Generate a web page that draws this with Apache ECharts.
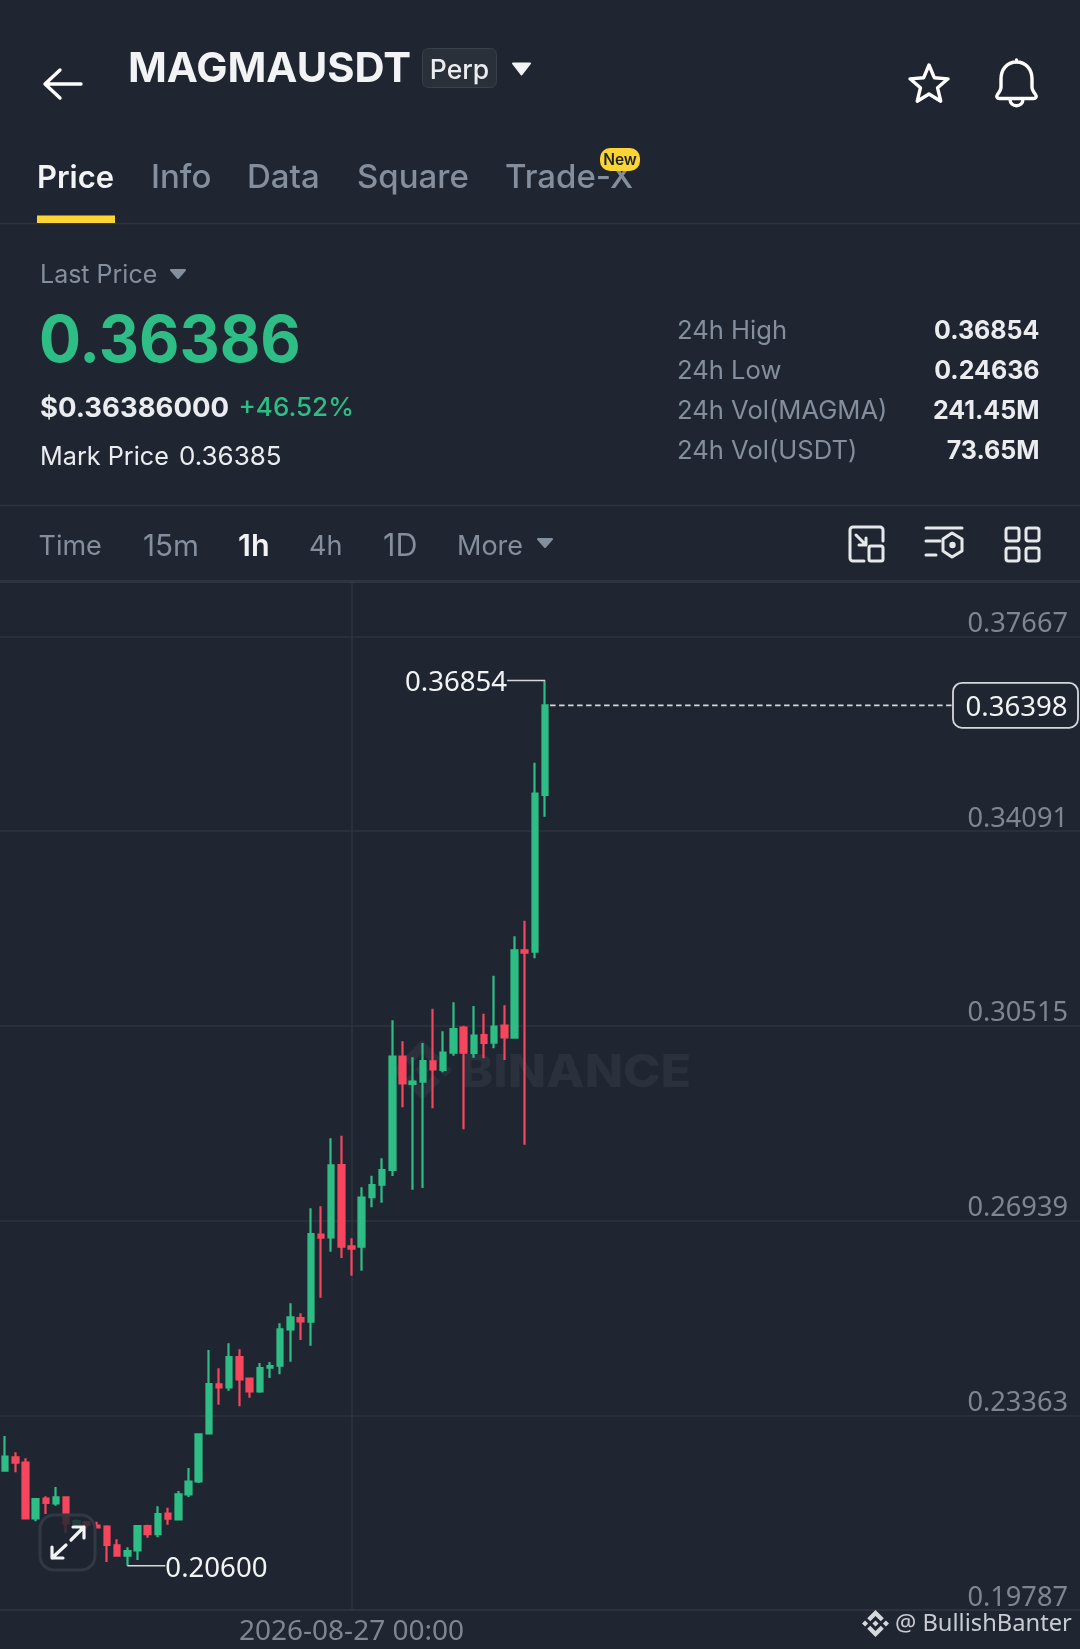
<!DOCTYPE html>
<html><head><meta charset="utf-8">
<style>html,body{margin:0;padding:0;background:#1f2631}#c{width:1080px;height:1649px}</style>
<script src="https://cdn.jsdelivr.net/npm/echarts@6/dist/echarts.min.js"></script>
</head><body><div id="c"></div>
<script>
const startLabelIndex = 34;
const dateLabel = '2026-08-27 00:00';
const priceTicks = [0.19787, 0.23363, 0.26939, 0.30515, 0.34091, 0.37667];
const opens  = [.22345,.22590,.22492,.21470,.21831,.21746,.21856,.21366,.21397,.21336,.21317,.20974,.20785,.20883,.21329,.21182,.21556,.21452,.21911,.22150,.23031,.23931,.23876,.24433,.24035,.23802,.24237,.24273,.24941,.25149,.25081,.26679,.26630,.27958,.26465,.26458,.27370,.27597,.27866,.29947,.29445,.29488,.29862,.29703,.30021,.30480,.30015,.30345,.30204,.30517,.30296,.31900,.31875,.34752];
const closes = [.22603,.22492,.21470,.21825,.21752,.21856,.21378,.21421,.21348,.21305,.20981,.20785,.20870,.21329,.21182,.21550,.21464,.21911,.22143,.23013,.23937,.23876,.24433,.24022,.23802,.24231,.24267,.24941,.25161,.25087,.26691,.26624,.27952,.26458,.26422,.27358,.27591,.27866,.29947,.29458,.29488,.29868,.29715,.30021,.30455,.30021,.30333,.30198,.30498,.30302,.31900,.31857,.34776,.36398];
const lows   = [.22345,.22315,.21470,.21415,.21550,.21703,.21207,.21317,.21287,.21287,.20668,.20785,.20600,.20705,.21115,.21121,.21354,.21452,.21862,.22119,.23031,.23557,.23814,.23527,.23686,.23778,.24047,.24114,.24347,.24745,.24641,.25522,.26367,.26250,.25926,.26018,.27181,.27266,.27756,.29017,.27505,.27536,.28999,.29660,.29966,.28613,.29929,.29917,.30100,.29886,.30278,.28332,.31753,.34354];
const highs  = [.22982,.22682,.22572,.21825,.21874,.22045,.21874,.21452,.21421,.21409,.21342,.21085,.20938,.21342,.21354,.21690,.21666,.21972,.22394,.23031,.24561,.24224,.24683,.24573,.24047,.24322,.24341,.25051,.25418,.25234,.27162,.27199,.28448,.28497,.26612,.27548,.27762,.28080,.30615,.30229,.29935,.30198,.30829,.30413,.30945,.30517,.30878,.30737,.31435,.30890,.32157,.32445,.35346,.36854];
const highIndex = 53, lowIndex = 12, lastPrice = 0.36398;
const tabs = ['Price','Info','Data','Square','Trade-X'];
const intervals = ['Time','15m','1h','4h','1D','More'];
const statLabels = ['24h High','24h Low','24h Vol(MAGMA)','24h Vol(USDT)'];
const statValues = ['0.36854','0.24636','241.45M','73.65M'];

const BG='#1f2631', GREEN='#2ebd85', RED='#f6465d', GREY='#848e9c', WHITE='#eaecef', LINE='#2e3540', UIFONT='Inter', CHARTFONT='"Noto Sans"';
const BN='M38.73 53.2l24.59-24.58 24.6 24.6 14.3-14.31L63.32 0 24.43 38.89zM0 63.31l14.3-14.31 14.31 14.31-14.31 14.3zM38.73 73.41l24.59 24.59 24.6-24.6 14.31 14.29-38.9 38.91-38.91-38.88-.02-.02zM98 63.31l14.3-14.31 14.31 14.3-14.31 14.32zM77.83 63.3L63.32 48.78 52.59 59.51l-1.24 1.23-2.54 2.54 14.51 14.5 14.51-14.47z';

let shapeCount=0;
function shapeOf(d){const name='rs'+(shapeCount++);echarts.graphic.registerShape(name,echarts.graphic.extendPath(d,{}));return name;}
function T(x,y,text,size,fill,weight,align,z,font,sx){const dy=font?0:1.8;return {type:'text',z:z||50,silent:true,x,y:y+dy,scaleX:sx||1,style:{x:0,y:0,text,fill,font:(weight||400)+' '+size+'px '+(font||UIFONT),textAlign:align||'left',textVerticalAlign:'middle'}};}
function R(x,y,w,h,fill,r,stroke,lw,z){return {type:'rect',z:z||50,silent:true,shape:{x,y,width:w,height:h,r:r||0},style:{fill:fill||'none',stroke:stroke||'none',lineWidth:lw||0}};}
function P(d,stroke,lw,fill,z){return {type:shapeOf(d),z:z||50,silent:true,style:{stroke:stroke||'none',lineWidth:lw||0,fill:fill||'none',lineCap:'round',lineJoin:'round'}};}
function PP(d,fill,x,y,w,h,z){const s=w/126.61;return {type:shapeOf(d),z:z||50,silent:true,x,y,scaleX:s,scaleY:h/126.61,style:{fill}};}
function tri(cx,cy,w,h,fill){return {type:'polygon',z:50,silent:true,shape:{points:[[cx-w/2,cy-h/2],[cx+w/2,cy-h/2],[cx,cy+h/2]]},style:{fill,stroke:fill,lineWidth:2,lineJoin:'round'}};}
function line(x1,y1,x2,y2,stroke,lw,z){return {type:'line',z:z||50,silent:true,shape:{x1,y1,x2,y2},style:{stroke,lineWidth:lw,lineCap:'round'}};}
function star(cx,cy,R1,R2){const pts=[];for(let i=0;i<10;i++){const r=i%2?R2:R1,a=-Math.PI/2+i*Math.PI/5;pts.push([cx+r*Math.cos(a),cy+r*Math.sin(a)]);}return {type:'polygon',z:50,silent:true,shape:{points:pts},style:{fill:'none',stroke:'#fff',lineWidth:3.4,lineJoin:'round'}};}

const tabX=[37,151,247,357,505];
const intX=[38.5,143,238,309,383,457];
const intSize=[27,29.6,30.5,27,30.5,27];
const g=[
  // header
  P('M81 84H46M60 70L45 84L60 98','#fff',3.4),
  T(128,68,'MAGMAUSDT',41.7,'#f2f3f5',700),
  R(422.5,48.5,74,39,'#2a3039',6,'#39404b',1),
  T(459.5,69,'Perp',26.5,WHITE,500,'center'),
  tri(521.5,69,17,11,'#f2f3f5'),
  star(929,85,20,9),
  P('M1016.5 62c-10 0-15.5 8-15.5 17v8c0 3-1.5 5-3.5 7.5-1.5 2-.5 4 2 4h34c2.5 0 3.5-2 2-4-2-2.5-3.5-4.5-3.5-7.5v-8c0-9-5.5-17-15.5-17zM1010 99c0 9 13 9 13 0M1016.5 62V60','#fff',3.4),
  // tabs
  ...tabs.map((s,i)=>T(tabX[i],176.5,s,i===0?31:33,i===0?'#f2f3f5':GREY,i===0?600:500)),
  R(37,215.5,78,7.5,'#fcd535'),
  line(0,223.5,1080,223.5,LINE,1.5,40),
  R(600,148,40,23,'#fcd535',10),
  T(620,158.5,'New',15.5,'#1e2329',600,'center',51),
  // prices
  T(40,274,'Last Price',25,GREY,400),
  tri(178,274,14,8,GREY),
  T(39,341,'0.36386',65,GREEN,700,'left',50,null,0.96),
  T(40,406.5,'$0.36386000',27.5,WHITE,700),
  T(238.5,406.5,'+46.52%',26,GREEN,500),
  T(40,455.5,'Mark Price',25.2,WHITE,400),
  T(179,455.5,'0.36385',26,WHITE,400),
  ...statLabels.map((s,i)=>T(677,[329.5,369.5,409.5,449.5][i],s,25.6,GREY,400)),
  ...statValues.map((s,i)=>T(1039.5,[329.5,369.5,409.5,449.5][i],s,25,WHITE,700,'right')),
  line(0,505.5,1080,505.5,LINE,1.5,40),
  // intervals
  ...intervals.map((s,i)=>T(intX[i],544.8,s,intSize[i],i===2?'#f2f3f5':GREY,i===2?600:400)),
  tri(545,543,14,8,GREY),
  P('M883 541V530a3 3 0 0 0-3-3H853a3 3 0 0 0-3 3V558a3 3 0 0 0 3 3H864M856 535L866 545M859 545H866V538','#e6e8ea',3),
  R(869,546,14,15,'none',2,'#e6e8ea',3),
  P('M926 528H962M926 541H940M926 555H936','#e6e8ea',3),
  {type:'polygon',z:50,silent:true,shape:{points:[[952,533],[962,539],[962,551],[952,557],[943,551],[943,539]]},style:{fill:'none',stroke:'#e6e8ea',lineWidth:3,lineJoin:'round'}},
  {type:'circle',z:50,silent:true,shape:{cx:952.5,cy:545,r:3.2},style:{fill:'#e6e8ea'}},
  R(1006,528,13,13,'none',2.5,'#e6e8ea',3),R(1026,528,13,13,'none',2.5,'#e6e8ea',3),
  R(1006,548,13,13,'none',2.5,'#e6e8ea',3),R(1026,548,13,13,'none',2.5,'#e6e8ea',3),
  line(0,581.5,1080,581.5,LINE,3,40),
  // watermark
  PP(BN,'#2a313c',392,1040,60,60,1),
  T(460,1071.5,'BINANCE',45,'#2a313c',800,'left',1,null,1.115),
  // expand button
  R(40,1515,55,55,'rgba(31,38,49,0.82)',14,'#323844',3,60),
  P('M52 1558L66 1545M52 1558V1547M52 1558H63M71 1540L84 1527M84 1527H73M84 1527V1538','#f2f3f5',3.2,null,61),
  // signature
  PP(BN,'#d6d8dc',862,1610,27,27,70),
  T(895,1624,'@ BullishBanter',23.7,'#c9ccd1',400,'left',70,CHARTFONT),
];

const axisMax = 0.37667 + (636.25-582)/194.75*0.03576;
const candleData = opens.map((o,i)=>[o,closes[i],lows[i],highs[i]]);

const option={
  backgroundColor:BG,animation:false,
  grid:{left:-7.2,width:1088.5,top:582,bottom:39,containLabel:false},
  xAxis:{type:'category',data:opens.map((_,i)=>i===startLabelIndex?dateLabel:''),max:105,boundaryGap:true,
    axisLine:{show:true,lineStyle:{color:LINE,width:1.5}},axisTick:{show:false},
    axisLabel:{show:true,interval:(i)=>i===startLabelIndex,color:'#7f8691',fontFamily:CHARTFONT,fontSize:28,margin:8,hideOverlap:false},
    splitLine:{show:true,alignWithLabel:true,interval:(i)=>i===startLabelIndex,lineStyle:{color:LINE,width:1.5}}},
  yAxis:{type:'value',position:'right',min:priceTicks[0],max:axisMax,scale:true,
    axisLine:{show:false},
    axisTick:{show:false,customValues:priceTicks},
    axisLabel:{inside:true,customValues:priceTicks,formatter:v=>v.toFixed(5),color:'#7f8691',fontFamily:CHARTFONT,fontSize:27.2,margin:12,verticalAlign:'bottom',lineHeight:24,align:'right'},
    splitLine:{show:true,lineStyle:{color:LINE,width:1.5}}},
  graphic:{elements:g},
  series:[
    {type:'candlestick',data:candleData,barWidth:6,clip:false,
      itemStyle:{color:GREEN,color0:RED,borderColor:GREEN,borderColor0:RED,borderWidth:2.2}},
    {type:'custom',coordinateSystem:'cartesian2d',z:10,silent:true,clip:false,encode:{x:0,y:1},
      data:[[lowIndex,lows[lowIndex],1],[highIndex,highs[highIndex],-1]],
      renderItem(p,api){
        const c=api.coord([api.value(0),api.value(1)]),d=api.value(2),x2=c[0]+d*38;
        return {type:'group',children:[
          {type:'line',shape:{x1:c[0],y1:c[1],x2,y2:c[1]},style:{stroke:'#d5d7db',lineWidth:1.5}},
          {type:'text',style:{x:x2,y:c[1]+3,text:api.value(1).toFixed(5),fill:'#f2f3f5',font:'400 27.6px '+CHARTFONT,textAlign:d>0?'left':'right',textVerticalAlign:'middle'}}
        ]};
      }},
    {type:'custom',coordinateSystem:'cartesian2d',z:10,silent:true,clip:false,encode:{x:0,y:1},
      data:[[highIndex,lastPrice]],
      renderItem(p,api){
        const c=api.coord([api.value(0),api.value(1)]);
        return {type:'group',children:[
          {type:'line',shape:{x1:c[0]+5,y1:c[1],x2:953,y2:c[1]},style:{stroke:'#d5d7db',lineWidth:1.8,lineDash:[5.5,3.5]}},
          {type:'rect',shape:{x:953,y:c[1]-22.5,width:125,height:45,r:9},style:{fill:BG,stroke:'#d5d7db',lineWidth:1.8}},
          {type:'text',style:{x:1016.5,y:c[1]+3,text:lastPrice.toFixed(5),fill:'#f2f3f5',font:'400 27.6px '+CHARTFONT,textAlign:'center',textVerticalAlign:'middle'}}
        ]};
      }}
  ]
};
echarts.init(document.getElementById('c')).setOption(option);
</script></body></html>
